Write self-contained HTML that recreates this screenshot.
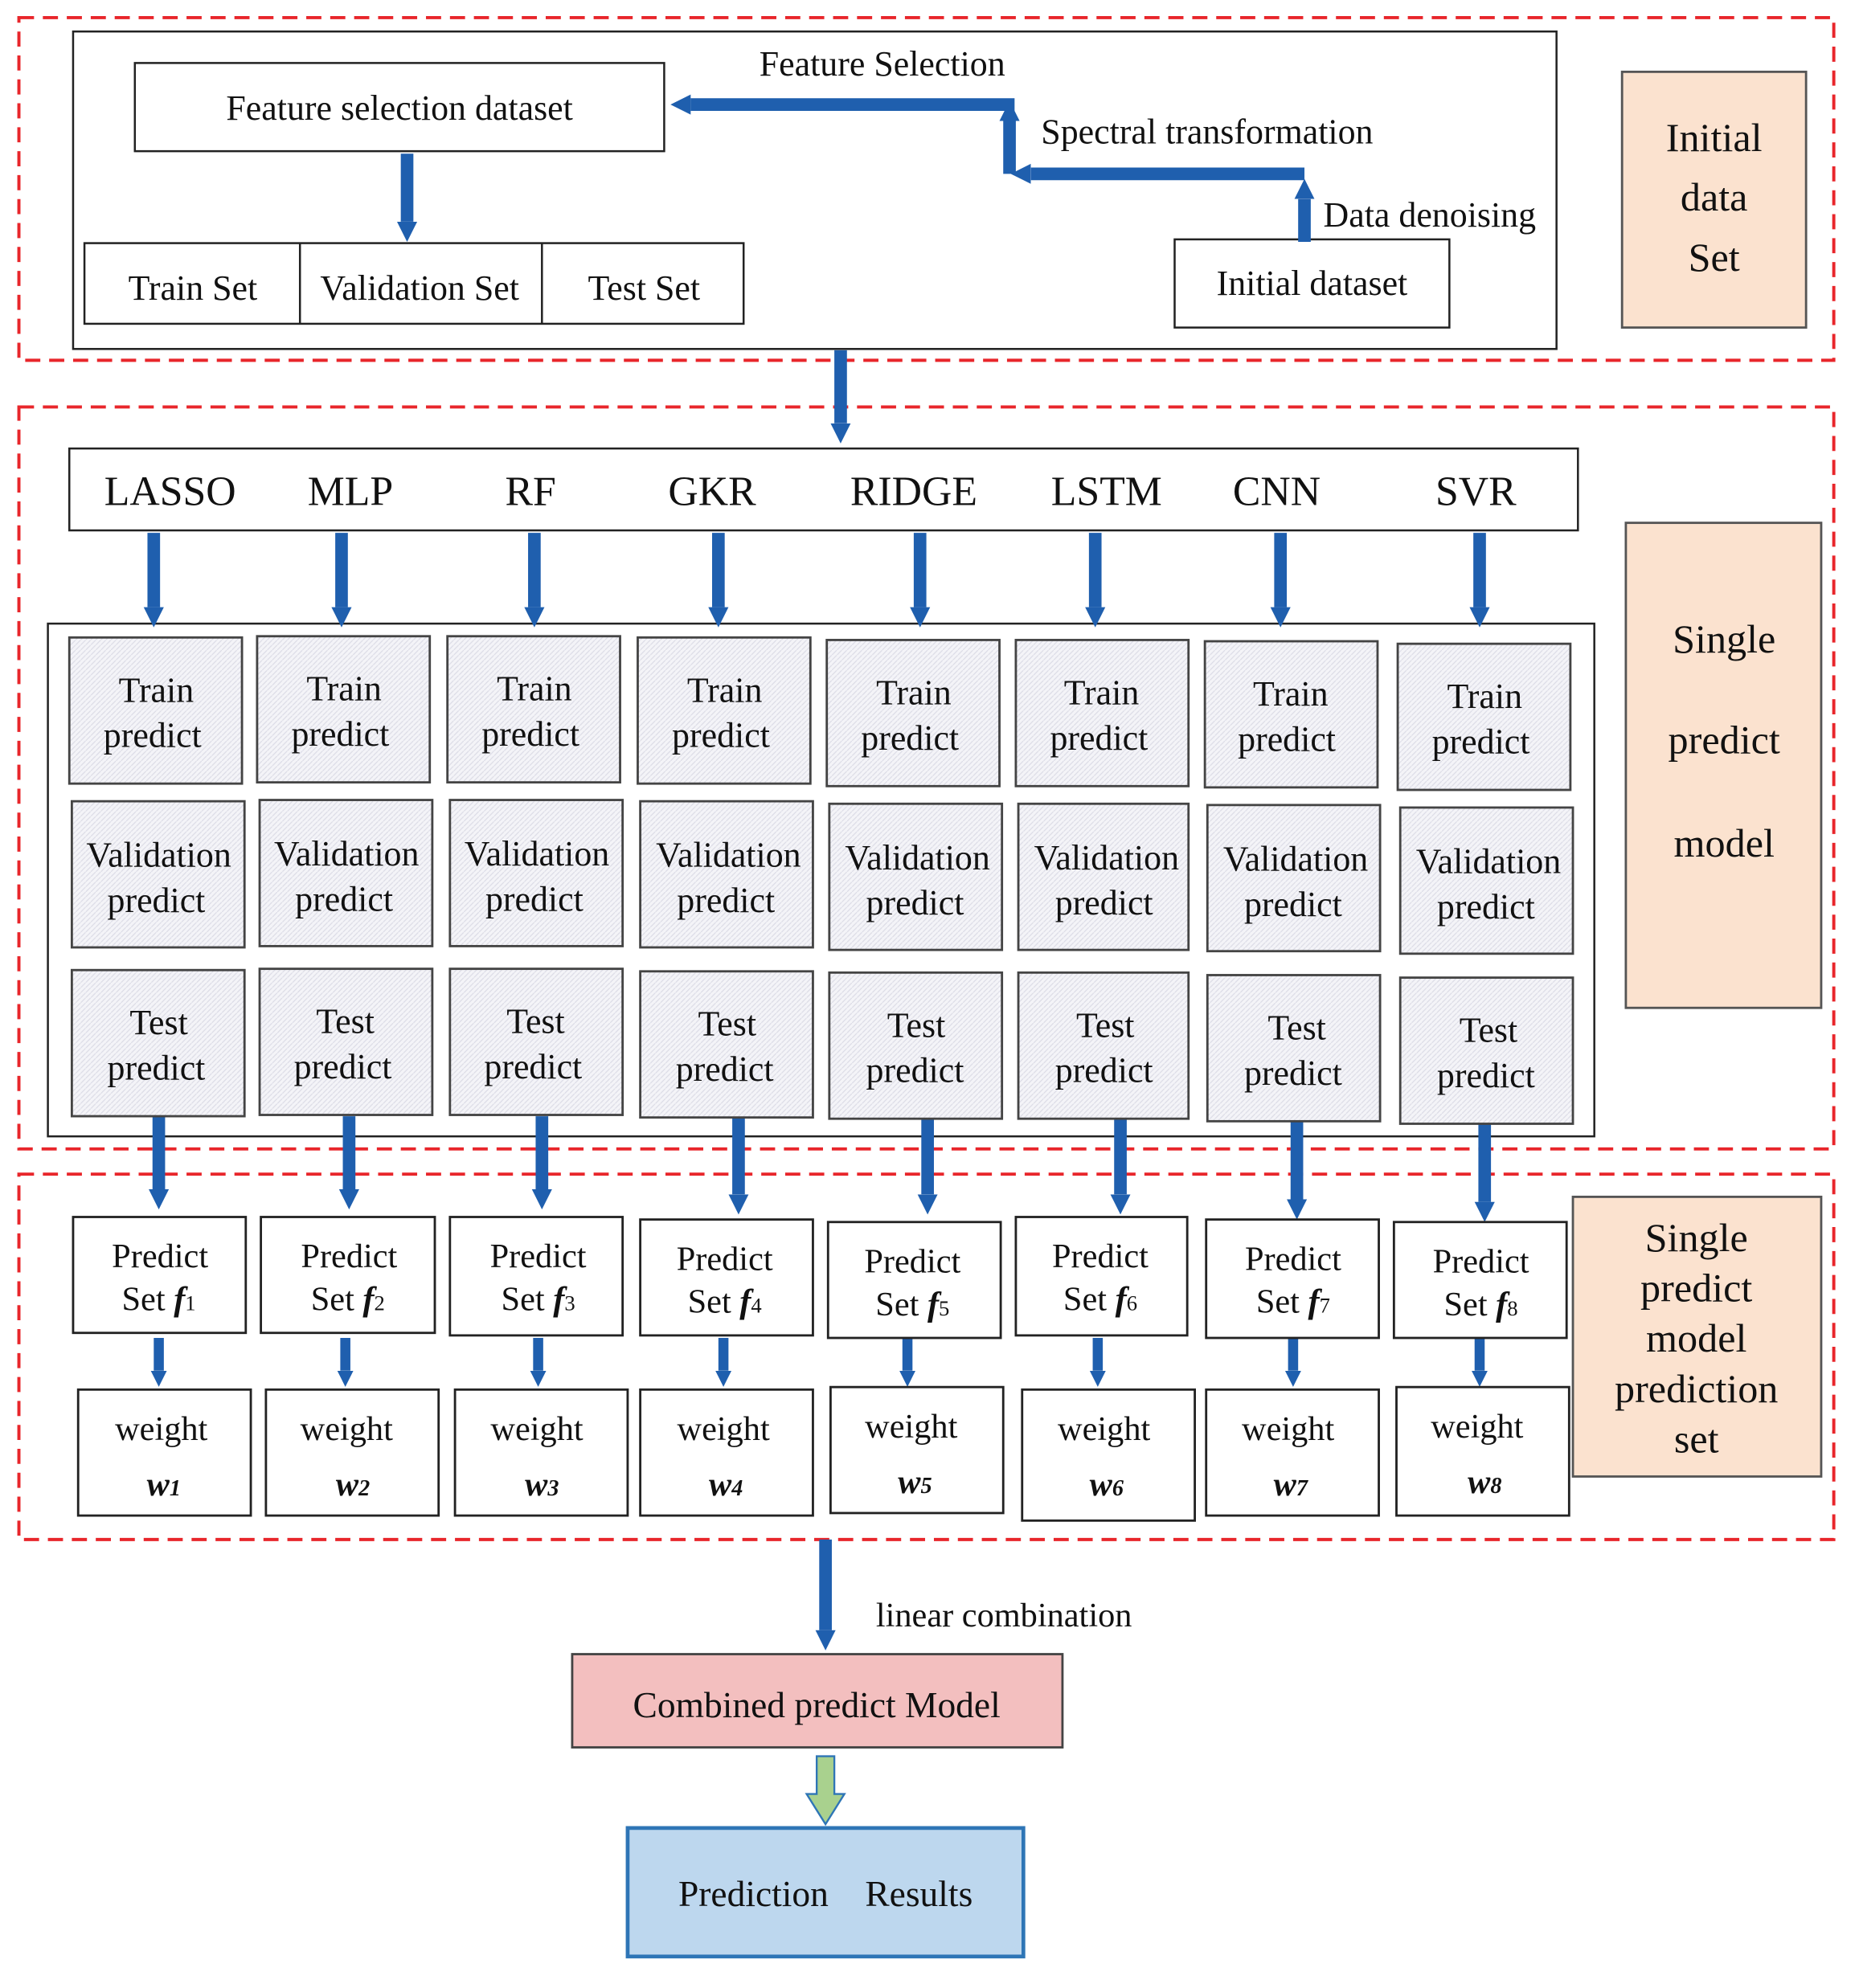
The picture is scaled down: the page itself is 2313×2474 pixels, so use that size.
<!DOCTYPE html>
<html><head><meta charset="utf-8"><style>
html,body{margin:0;padding:0;background:#fff}
svg{display:block}
text{font-family:"Liberation Serif",serif;fill:#111}
</style></head><body>
<svg width="2313" height="2474" viewBox="0 0 1475 1578" preserveAspectRatio="none" xmlns="http://www.w3.org/2000/svg">
<defs>
<marker id="ah" viewBox="0 0 10 10" refX="0" refY="5" markerWidth="1.6" markerHeight="2.3" orient="auto" markerUnits="strokeWidth"><path d="M0,0 L10,5 L0,10 z" fill="#1f5fae"/></marker>
<pattern id="hat" width="4" height="4" patternUnits="userSpaceOnUse"><rect width="4" height="4" fill="#f4f4f8"/><path d="M0,4 L4,0" stroke="#dcdce6" stroke-width="0.8"/></pattern>
</defs>
<g fill="none" stroke="#e8262b" stroke-width="2.5" stroke-dasharray="12,7">
<rect x="15" y="14" width="1440" height="272"/>
<rect x="15" y="323" width="1440" height="589"/>
<rect x="15" y="932" width="1440" height="290"/>
</g>
<g fill="#fff" stroke="#222" stroke-width="1.6">
<rect x="58" y="25" width="1177" height="252"/>
<rect x="107" y="50" width="420" height="70"/>
<rect x="67" y="193" width="523" height="64"/>
<line x1="238" y1="193" x2="238" y2="257"/><line x1="430" y1="193" x2="430" y2="257"/>
<rect x="932" y="190" width="218" height="70"/>
<rect x="55" y="356" width="1197" height="65"/>
<rect x="38" y="495" width="1227" height="407"/>
</g>
<g fill="#fbe2cf" stroke="#555" stroke-width="1.8">
<rect x="1287" y="57" width="146" height="203"/>
<rect x="1290" y="415" width="155" height="385"/>
<rect x="1248" y="950" width="197" height="222"/>
</g>
<g font-size="28">
<text x="317" y="95" text-anchor="middle">Feature selection dataset</text>
<text x="153" y="238" text-anchor="middle">Train Set</text>
<text x="333" y="238" text-anchor="middle">Validation Set</text>
<text x="511" y="238" text-anchor="middle">Test Set</text>
<text x="1041" y="234" text-anchor="middle">Initial dataset</text>
<text x="700" y="60" text-anchor="middle">Feature Selection</text>
<text x="826" y="114">Spectral transformation</text>
<text x="1050" y="180">Data denoising</text>
</g>
<g font-size="32" text-anchor="middle">
<text x="1360" y="120">Initial</text><text x="1360" y="167">data</text><text x="1360" y="215">Set</text>
<text x="1368" y="518">Single</text><text x="1368" y="598">predict</text><text x="1368" y="680">model</text>
<text x="1346" y="993">Single</text><text x="1346" y="1033">predict</text><text x="1346" y="1073">model</text><text x="1346" y="1113">prediction</text><text x="1346" y="1153">set</text>
</g>
<g font-size="33" text-anchor="middle">
<text x="135" y="401">LASSO</text><text x="278" y="401">MLP</text><text x="421" y="401">RF</text><text x="565" y="401">GKR</text><text x="725" y="401">RIDGE</text><text x="878" y="401">LSTM</text><text x="1013" y="401">CNN</text><text x="1171" y="401">SVR</text>
</g>
<!-- thick arrows -->
<g stroke="#1f5fae" stroke-width="10" fill="none">
<path d="M805,83 L548,83" marker-end="url(#ah)"/>
<path d="M801,138 L801,96" marker-end="url(#ah)"/>
<path d="M1035,138 L818,138" marker-end="url(#ah)"/>
<path d="M1035,192 L1035,158" marker-end="url(#ah)"/>
<path d="M323,122 L323,176" marker-end="url(#ah)"/>
<path d="M667,278 L667,336" marker-end="url(#ah)"/>
<path d="M122,423 L122,482" marker-end="url(#ah)"/>
<path d="M271,423 L271,482" marker-end="url(#ah)"/>
<path d="M424,423 L424,482" marker-end="url(#ah)"/>
<path d="M570,423 L570,482" marker-end="url(#ah)"/>
<path d="M730,423 L730,482" marker-end="url(#ah)"/>
<path d="M869,423 L869,482" marker-end="url(#ah)"/>
<path d="M1016,423 L1016,482" marker-end="url(#ah)"/>
<path d="M1174,423 L1174,482" marker-end="url(#ah)"/>
<path d="M126,886 L126,944" marker-end="url(#ah)"/>
<path d="M277,886 L277,944" marker-end="url(#ah)"/>
<path d="M430,886 L430,944" marker-end="url(#ah)"/>
<path d="M586,886 L586,948" marker-end="url(#ah)"/>
<path d="M736,888 L736,948" marker-end="url(#ah)"/>
<path d="M889,888 L889,948" marker-end="url(#ah)"/>
<path d="M1029,890 L1029,952" marker-end="url(#ah)"/>
<path d="M1178,890 L1178,954" marker-end="url(#ah)"/>
<path d="M655,1222 L655,1294" marker-end="url(#ah)"/>
</g>
<g stroke="#1f5fae" stroke-width="8" fill="none">
<path d="M126,1062 L126,1088" marker-end="url(#ah)"/>
<path d="M274,1062 L274,1088" marker-end="url(#ah)"/>
<path d="M427,1062 L427,1088" marker-end="url(#ah)"/>
<path d="M574,1062 L574,1088" marker-end="url(#ah)"/>
<path d="M720,1062 L720,1088" marker-end="url(#ah)"/>
<path d="M871,1062 L871,1088" marker-end="url(#ah)"/>
<path d="M1026,1062 L1026,1088" marker-end="url(#ah)"/>
<path d="M1174,1062 L1174,1088" marker-end="url(#ah)"/>
</g>
<!-- grid cells -->
<g fill="url(#hat)" stroke="#444" stroke-width="1.8">
<rect x="55" y="506" width="137" height="116"/><rect x="204" y="505" width="137" height="116"/><rect x="355" y="505" width="137" height="116"/><rect x="506" y="506" width="137" height="116"/><rect x="656" y="508" width="137" height="116"/><rect x="806" y="508" width="137" height="116"/><rect x="956" y="509" width="137" height="116"/><rect x="1109" y="511" width="137" height="116"/>
<rect x="57" y="636" width="137" height="116"/><rect x="206" y="635" width="137" height="116"/><rect x="357" y="635" width="137" height="116"/><rect x="508" y="636" width="137" height="116"/><rect x="658" y="638" width="137" height="116"/><rect x="808" y="638" width="135" height="116"/><rect x="958" y="639" width="137" height="116"/><rect x="1111" y="641" width="137" height="116"/>
<rect x="57" y="770" width="137" height="116"/><rect x="206" y="769" width="137" height="116"/><rect x="357" y="769" width="137" height="116"/><rect x="508" y="771" width="137" height="116"/><rect x="658" y="772" width="137" height="116"/><rect x="808" y="772" width="135" height="116"/><rect x="958" y="774" width="137" height="116"/><rect x="1111" y="776" width="137" height="116"/>
</g>
<g font-size="28" text-anchor="middle">
<text x="124" y="557">Train</text><text x="121" y="593">predict</text>
<text x="273" y="556">Train</text><text x="270" y="592">predict</text>
<text x="424" y="556">Train</text><text x="421" y="592">predict</text>
<text x="575" y="557">Train</text><text x="572" y="593">predict</text>
<text x="725" y="559">Train</text><text x="722" y="595">predict</text>
<text x="874" y="559">Train</text><text x="872" y="595">predict</text>
<text x="1024" y="560">Train</text><text x="1021" y="596">predict</text>
<text x="1178" y="562">Train</text><text x="1175" y="598">predict</text>
<text x="126" y="688">Validation</text><text x="124" y="724">predict</text>
<text x="275" y="687">Validation</text><text x="273" y="723">predict</text>
<text x="426" y="687">Validation</text><text x="424" y="723">predict</text>
<text x="578" y="688">Validation</text><text x="576" y="724">predict</text>
<text x="728" y="690">Validation</text><text x="726" y="726">predict</text>
<text x="878" y="690">Validation</text><text x="876" y="726">predict</text>
<text x="1028" y="691">Validation</text><text x="1026" y="727">predict</text>
<text x="1181" y="693">Validation</text><text x="1179" y="729">predict</text>
<text x="126" y="821">Test</text><text x="124" y="857">predict</text>
<text x="274" y="820">Test</text><text x="272" y="856">predict</text>
<text x="425" y="820">Test</text><text x="423" y="856">predict</text>
<text x="577" y="822">Test</text><text x="575" y="858">predict</text>
<text x="727" y="823">Test</text><text x="726" y="859">predict</text>
<text x="877" y="823">Test</text><text x="876" y="859">predict</text>
<text x="1029" y="825">Test</text><text x="1026" y="861">predict</text>
<text x="1181" y="827">Test</text><text x="1179" y="863">predict</text>
</g>
<!-- predict sets -->
<g fill="#fff" stroke="#222" stroke-width="1.8">
<rect x="58" y="966" width="137" height="92"/><rect x="207" y="966" width="138" height="92"/><rect x="357" y="966" width="137" height="94"/><rect x="508" y="968" width="137" height="92"/><rect x="657" y="970" width="137" height="92"/><rect x="806" y="966" width="136" height="94"/><rect x="957" y="968" width="137" height="94"/><rect x="1106" y="970" width="137" height="92"/>
<rect x="62" y="1103" width="137" height="100"/><rect x="211" y="1103" width="137" height="100"/><rect x="361" y="1103" width="137" height="100"/><rect x="508" y="1103" width="137" height="100"/><rect x="659" y="1101" width="137" height="100"/><rect x="811" y="1103" width="137" height="104"/><rect x="957" y="1103" width="137" height="100"/><rect x="1108" y="1101" width="137" height="102"/>
</g>
<g font-size="27" text-anchor="middle">
<text x="127" y="1006">Predict</text><text x="126" y="1040">Set <tspan font-style="italic" font-weight="bold">f</tspan><tspan font-size="17">1</tspan></text>
<text x="277" y="1006">Predict</text><text x="276" y="1040">Set <tspan font-style="italic" font-weight="bold">f</tspan><tspan font-size="17">2</tspan></text>
<text x="427" y="1006">Predict</text><text x="427" y="1040">Set <tspan font-style="italic" font-weight="bold">f</tspan><tspan font-size="17">3</tspan></text>
<text x="575" y="1008">Predict</text><text x="575" y="1042">Set <tspan font-style="italic" font-weight="bold">f</tspan><tspan font-size="17">4</tspan></text>
<text x="724" y="1010">Predict</text><text x="724" y="1044">Set <tspan font-style="italic" font-weight="bold">f</tspan><tspan font-size="17">5</tspan></text>
<text x="873" y="1006">Predict</text><text x="873" y="1040">Set <tspan font-style="italic" font-weight="bold">f</tspan><tspan font-size="17">6</tspan></text>
<text x="1026" y="1008">Predict</text><text x="1026" y="1042">Set <tspan font-style="italic" font-weight="bold">f</tspan><tspan font-size="17">7</tspan></text>
<text x="1175" y="1010">Predict</text><text x="1175" y="1044">Set <tspan font-style="italic" font-weight="bold">f</tspan><tspan font-size="17">8</tspan></text>
</g>
<g font-size="27" text-anchor="middle">
<text x="128" y="1143">weight</text><text x="130" y="1187" font-style="italic" font-weight="bold">w<tspan font-size="18">1</tspan></text>
<text x="275" y="1143">weight</text><text x="280" y="1187" font-style="italic" font-weight="bold">w<tspan font-size="18">2</tspan></text>
<text x="426" y="1143">weight</text><text x="430" y="1187" font-style="italic" font-weight="bold">w<tspan font-size="18">3</tspan></text>
<text x="574" y="1143">weight</text><text x="576" y="1187" font-style="italic" font-weight="bold">w<tspan font-size="18">4</tspan></text>
<text x="723" y="1141">weight</text><text x="726" y="1185" font-style="italic" font-weight="bold">w<tspan font-size="18">5</tspan></text>
<text x="876" y="1143">weight</text><text x="878" y="1187" font-style="italic" font-weight="bold">w<tspan font-size="18">6</tspan></text>
<text x="1022" y="1143">weight</text><text x="1024" y="1187" font-style="italic" font-weight="bold">w<tspan font-size="18">7</tspan></text>
<text x="1172" y="1141">weight</text><text x="1178" y="1185" font-style="italic" font-weight="bold">w<tspan font-size="18">8</tspan></text>
</g>
<text x="695" y="1291" font-size="27">linear combination</text>
<rect x="454" y="1313" width="389" height="74" fill="#f3bfbf" stroke="#444" stroke-width="1.8"/>
<text x="648" y="1363" font-size="29" text-anchor="middle">Combined predict Model</text>
<path d="M648,1394 L662,1394 L662,1424 L670,1424 L655,1448 L640,1424 L648,1424 Z" fill="#a9d18e" stroke="#2e75b6" stroke-width="1.5"/>
<rect x="498" y="1451" width="314" height="102" fill="#bdd7ee" stroke="#2e75b6" stroke-width="3"/>
<text x="655" y="1513" font-size="29" text-anchor="middle" xml:space="preserve">Prediction    Results</text>
</svg>
</body></html>
